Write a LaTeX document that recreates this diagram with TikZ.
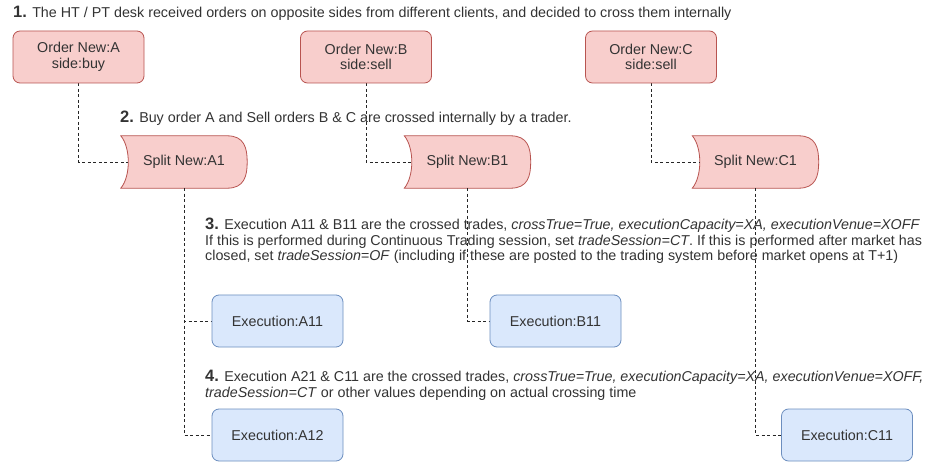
\documentclass[tikz,border=0pt]{standalone}
\usepackage{fontspec}
\setmainfont{Liberation Sans}
\usetikzlibrary{calc,backgrounds}
\pgfdeclarelayer{bottom}
\pgfsetlayers{bottom,background,main}
\definecolor{pinkfill}{HTML}{F8CECC}
\definecolor{pinkline}{HTML}{B85450}
\definecolor{bluefill}{HTML}{DAE8FC}
\definecolor{blueline}{HTML}{6C8EBF}
\definecolor{txt}{HTML}{333333}
\newcommand\numlab[1]{{\fontsize{16.5}{15}\selectfont\bfseries #1}}
\newcommand\drawsplit[1]{%
  \filldraw[fill=pinkfill,draw=pinkline,line width=0.8pt]
  let \p1=(#1.north west), \p2=(#1.south east) in
  (\x1,\y1) -- (\x2-20pt,\y1)
  .. controls (\x2-3pt,\y1) and (\x2,\y1-12pt) .. (\x2,{(\y1+\y2)/2})
  .. controls (\x2,\y2+12pt) and (\x2-3pt,\y2) .. (\x2-20pt,\y2)
  -- (\x1,\y2)
  .. controls (\x1+10pt,\y2+12pt) and (\x1+10pt,\y1-12pt) .. cycle;}
\begin{document}
\begin{tikzpicture}[x=1pt,y=-1pt,
  lab/.style={font=\fontsize{14.3}{15.5}\selectfont, text=txt},
  orderbox/.style={lab, draw=pinkline, fill=pinkfill, rounded corners=7pt, line width=0.8pt,
    minimum width=131pt, minimum height=52pt, align=center, inner sep=0pt},
  execbox/.style={lab, draw=blueline, fill=bluefill, rounded corners=7pt, line width=0.8pt,
    minimum width=131pt, minimum height=52pt, inner sep=0pt},
  splitnode/.style={lab, minimum width=126pt, minimum height=52pt, inner sep=0pt},
  note/.style={lab, anchor=west, align=left, inner sep=0pt},
  conn/.style={draw=black!85, dashed, dash pattern=on 3pt off 2.5pt, line width=0.8pt}]
\begin{pgfonlayer}{bottom}
\useasboundingbox[fill=white] (0,0) rectangle (945,462);
\end{pgfonlayer}

% texts
\node[note] (t1) at (13,13) {\numlab{1.} The HT / PT desk received orders on opposite sides from different clients, and decided to cross them internally};
\node[note] (t2) at (120,118) {\numlab{2.} Buy order A and Sell orders B \& C are crossed internally by a trader.};
\node[note, anchor=north west] (t3) at (205,218) {\numlab{3.} Execution A11 \& B11 are the crossed trades, \textit{crossTrue=True, executionCapacity=XA, executionVenue=XOFF}\\
If this is performed during Continuous Trading session, set \textit{tradeSession=CT}. If this is performed after market has\\
closed, set \textit{tradeSession=OF} (including if these are posted to the trading system before market opens at T+1)};
\node[note, anchor=north west] (t4) at (205,370) {\numlab{4.} Execution A21 \& C11 are the crossed trades, \textit{crossTrue=True, executionCapacity=XA, executionVenue=XOFF,}\\
\textit{tradeSession=CT} or other values depending on actual crossing time};

% orders
\node[orderbox] (oa) at (78.5,57) {Order New:A\\side:buy};
\node[orderbox] (ob) at (366,57) {Order New:B\\side:sell};
\node[orderbox] (oc) at (651,57) {Order New:C\\side:sell};

% splits
\node[splitnode] (sa) at (184,162) {Split New:A1};
\node[splitnode] (sb) at (467.5,162) {Split New:B1};
\node[splitnode] (sc) at (755.5,162) {Split New:C1};
\begin{scope}[on background layer]
\drawsplit{sa}
\drawsplit{sb}
\drawsplit{sc}
\end{scope}

% executions
\node[execbox] (ea11) at (277.5,321) {Execution:A11};
\node[execbox] (eb11) at (555.5,321) {Execution:B11};
\node[execbox] (ea12) at (277.5,435) {Execution:A12};
\node[execbox] (ec11) at (847,435) {Execution:C11};

% connectors
\begin{scope}[on background layer]
\draw[conn] (oa.south) |- ([xshift=7pt]sa.west);
\draw[conn] (ob.south) |- ([xshift=7pt]sb.west);
\draw[conn] (oc.south) |- ([xshift=7pt]sc.west);
\draw[conn] (sa.south) |- (ea11.west);
\draw[conn] (sa.south) |- (ea12.west);
\draw[conn] (sb.south) |- (eb11.west);
\draw[conn] (sc.south) |- (ec11.west);
\end{scope}
\end{tikzpicture}
\end{document}
